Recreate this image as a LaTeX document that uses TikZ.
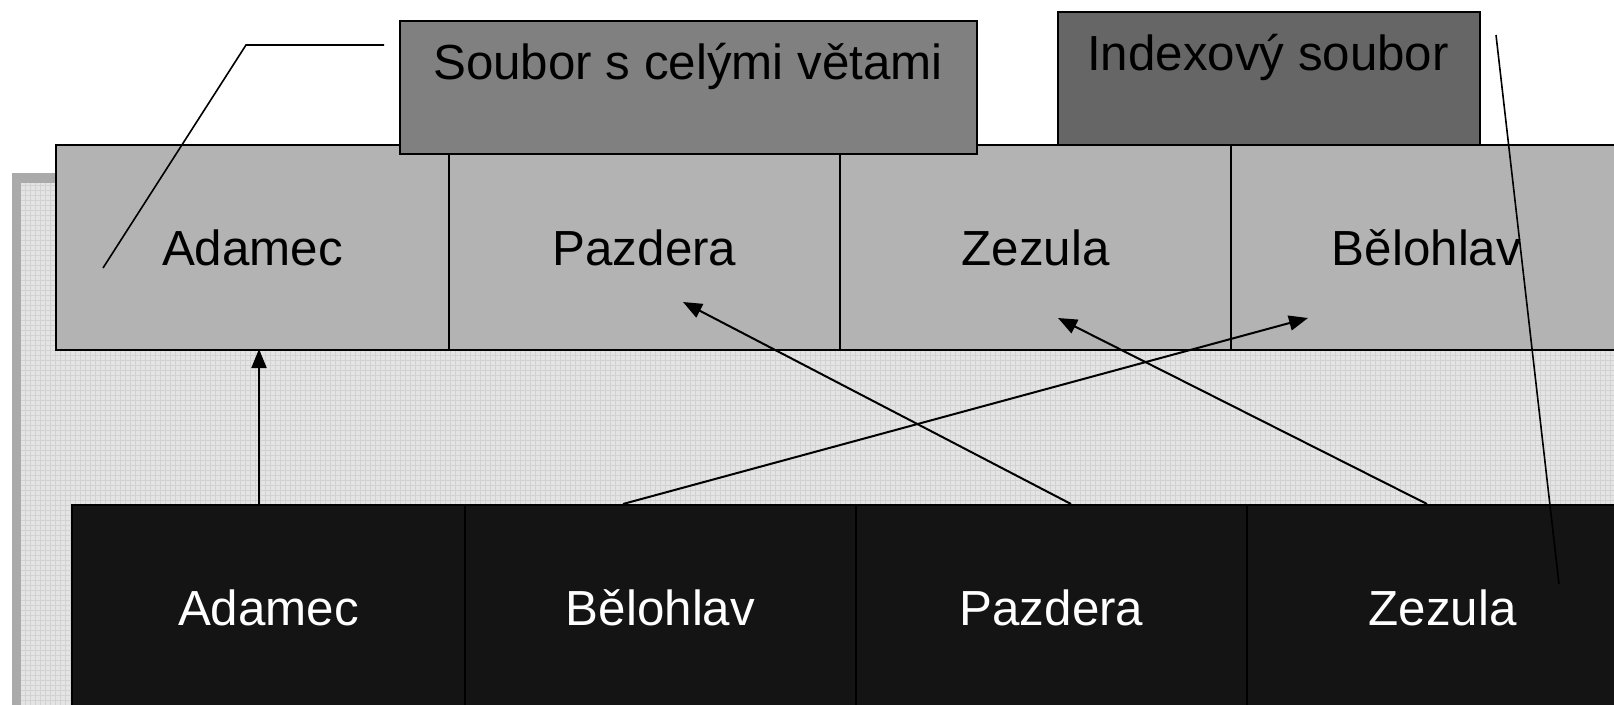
\documentclass[tikz,border=0pt]{standalone}
\usepackage{fontspec}
\setmainfont{Liberation Sans}
\usetikzlibrary{arrows.meta}
\definecolor{cellgray}{HTML}{B3B3B3}
\definecolor{boxA}{HTML}{808080}
\definecolor{boxB}{HTML}{666666}
\definecolor{cellblack}{HTML}{141414}
\definecolor{framegray}{HTML}{AAAAAA}
\definecolor{patbg}{HTML}{E4E4E4}
\definecolor{patline}{HTML}{D2D2D2}
\tikzset{
  topcell/.style={draw=black, line width=2pt, fill=cellgray, inner sep=0pt,
    minimum width=391pt, minimum height=205pt, anchor=north west,
    font=\fontsize{49.3}{52}\selectfont, text height=36pt, text depth=0pt},
  botcell/.style={draw=black, line width=2pt, fill=cellblack, text=white, inner sep=0pt,
    minimum width=391pt, minimum height=204pt, anchor=north west,
    font=\fontsize{49.3}{52}\selectfont, text height=36pt, text depth=0pt},
  labelbox/.style={draw=black, line width=2pt, inner sep=0pt, anchor=north west},
  labeltext/.style={anchor=base, inner sep=0pt, font=\fontsize{49.3}{52}\selectfont},
  conn/.style={line width=2pt, -{Triangle[length=19pt,width=15pt]}},
  callout/.style={line width=1.6pt}
}
\begin{document}
\begin{tikzpicture}[x=1pt,y=-1pt]
\useasboundingbox (0,0) rectangle (1614,704);
\clip (0,0) rectangle (1614,704);
% background frame
\fill[framegray] (12,173) rectangle (1700,800);
\fill[patbg] (21,183) rectangle (1700,800);
\begin{scope}
\clip (21,183) rectangle (1700,800);
\draw[patline, line width=0.6pt] (21,183) grid[step=5pt] (1700,800);
\end{scope}
% top row
\node[topcell, minimum width=393pt] (t1) at (55,144) {Adamec};
\node[topcell] (t2) at (448,144) {Pazdera};
\node[topcell] (t3) at (839,144) {Zezula};
\node[topcell] (t4) at (1230,144) {Bělohlav};
% label boxes
\node[labelbox, fill=boxA, minimum width=577pt, minimum height=133pt] (lb1) at (399,20) {};
\node[labeltext] (lt1) at (688,79) {Soubor s celými větami};
\node[labelbox, fill=boxB, minimum width=422pt, minimum height=133pt] (lb2) at (1057,11) {};
\node[labeltext] (lt2) at (1268,70) {Indexový soubor};
% bottom row
\node[botcell, minimum width=393pt] (b1) at (71,504) {Adamec};
\node[botcell] (b2) at (464,504) {Bělohlav};
\node[botcell] (b3) at (855,504) {Pazdera};
\node[botcell] (b4) at (1246,504) {Zezula};
% arrow end points
\coordinate (s1) at (259,504);
\coordinate (e1) at (259,349);
\coordinate (s2) at (1071,504);
\coordinate (e2) at (683,302);
\coordinate (s3) at (623,504);
\coordinate (e3) at (1308,318);
\coordinate (s4) at (1427,504);
\coordinate (e4) at (1058,318);
\draw[conn] (s1) -- (e1);
\draw[conn] (s2) -- (e2);
\draw[conn] (s3) -- (e3);
\draw[conn] (s4) -- (e4);
% callout lines
\coordinate (c1a) at (384,45);
\coordinate (c1b) at (246,45);
\coordinate (c1c) at (103,268);
\draw[callout] (c1a) -- (c1b) -- (c1c);
\coordinate (c2a) at (1496,35);
\coordinate (c2b) at (1559,584);
\draw[callout] (c2a) -- (c2b);
\end{tikzpicture}
\end{document}
